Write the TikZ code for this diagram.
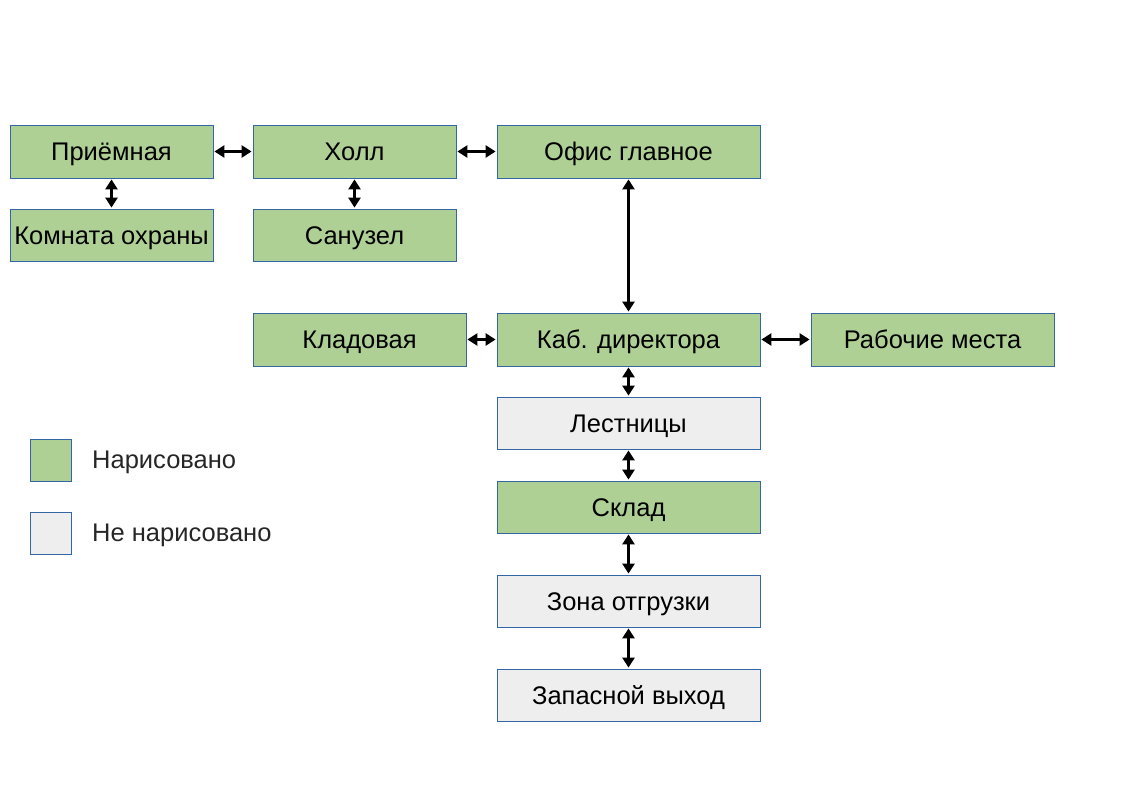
\documentclass[tikz,border=0pt]{standalone}
\usepackage{fontspec}
\setmainfont{Liberation Sans}
\usetikzlibrary{arrows.meta}
\definecolor{drawn}{HTML}{AFD095}
\definecolor{notdrawn}{HTML}{EEEEEE}
\definecolor{edge}{HTML}{3465A4}
\tikzset{
  room/.style={draw=edge, line width=0.8pt, inner sep=0pt, font=\fontsize{25.5}{28}\selectfont, text=black, text height=18.3pt, text depth=0pt},
  green/.style={room, fill=drawn},
  gray/.style={room, fill=notdrawn},
  link/.style={line width=3pt, {Triangle[length=10pt,width=12pt]}-{Triangle[length=10pt,width=12pt]}, shorten <=1pt, shorten >=1pt},
  legtext/.style={anchor=west, font=\fontsize{25.5}{28}\selectfont, text=black!85, inner sep=0pt, text height=18.3pt, text depth=0pt}
}
\begin{document}
\begin{tikzpicture}[x=1pt,y=-1pt]
\useasboundingbox (0,0) rectangle (1123,794);
\newcommand{\roombox}[7]{% style, name, x1, y1, x2, y2, text
  \node[#1, minimum width={#5-#3}, minimum height={#6-#4}] (#2) at ({(#3+#5)/2},{(#4+#6)/2}) {#7};}
\roombox{green}{priem}{10}{125}{213}{178}{Приёмная}
\roombox{green}{ohrana}{10}{209}{213}{261}{Комната охраны}
\roombox{green}{holl}{253}{125}{456}{178}{Холл}
\roombox{green}{sanuzel}{253}{209}{456}{261}{Санузел}
\roombox{green}{ofis}{497}{125}{760}{178}{Офис главное}
\roombox{green}{klad}{253}{313}{466}{366}{Кладовая}
\roombox{green}{kab}{497}{313}{760}{366}{Каб. директора}
\roombox{green}{rab}{811}{313}{1054}{366}{Рабочие места}
\roombox{gray}{lest}{497}{397}{760}{449}{Лестницы}
\roombox{green}{sklad}{497}{481}{760}{533}{Склад}
\roombox{gray}{zona}{497}{575}{760}{627}{Зона отгрузки}
\roombox{gray}{zapas}{497}{669}{760}{721}{Запасной выход}
\roombox{green}{leg1}{30}{439}{71}{481}{}
\roombox{gray}{leg2}{30}{512}{71}{554}{}
\node[legtext] (leg1t) at (92,459) {Нарисовано};
\node[legtext] (leg2t) at (92,532) {Не нарисовано};
\draw[link] (priem.east) -- (holl.west);
\draw[link] (holl.east) -- (ofis.west);
\draw[link] (priem.south) -- (ohrana.north);
\draw[link] (holl.south) -- (sanuzel.north);
\draw[link] (ofis.south) -- (kab.north);
\draw[link] (klad.east) -- (kab.west);
\draw[link] (kab.east) -- (rab.west);
\draw[link] (kab.south) -- (lest.north);
\draw[link] (lest.south) -- (sklad.north);
\draw[link] (sklad.south) -- (zona.north);
\draw[link] (zona.south) -- (zapas.north);
\end{tikzpicture}
\end{document}
